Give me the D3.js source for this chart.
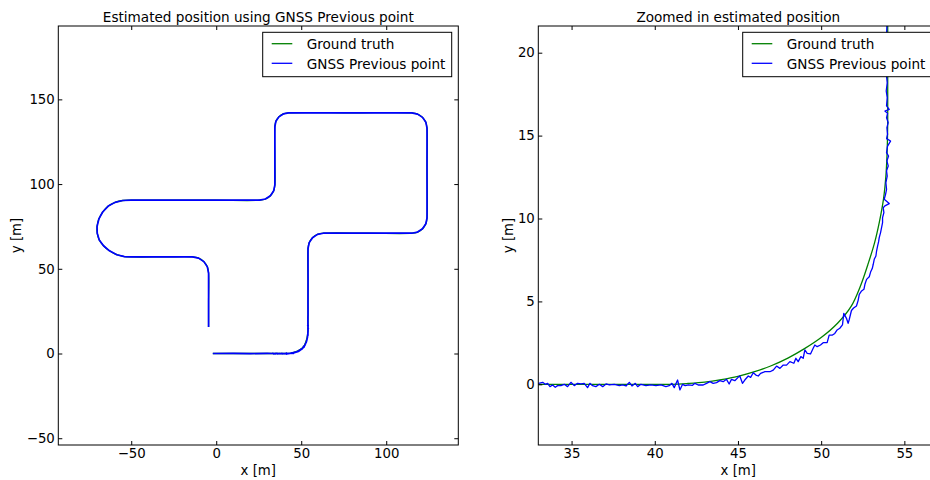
<!DOCTYPE html>
<html>
<head>
<meta charset="utf-8">
<script src="https://cdn.jsdelivr.net/npm/d3@7"></script>
<style>
  html, body { margin: 0; padding: 0; background: #fff; }
  svg { display: block; font-family: "DejaVu Sans", sans-serif; }
</style>
</head>
<body>
<svg id="chart" width="930" height="480"></svg>
<script>
// Ground truth trajectory [x, y] in metres
const groundTruth = [
  [-2, 0], [10, 0], [20, 0], [30, 0], [33, 0], [38, 0], [41, 0], [42, 0.05], [43, 0.13],
  [44, 0.28], [45, 0.48], [46, 0.76], [47, 1.12], [48, 1.58], [49, 2.15], [50, 2.82],
  [51, 3.7], [51.8, 4.7], [52.35, 5.9], [52.8, 7.2], [53.2, 8.5], [53.5, 9.8],
  [53.75, 11.2], [53.9, 12.7], [53.97, 14.2], [54, 16], [54, 22],
  [54, 40], [54, 62], [54.69, 65.44], [56.64, 68.36], [59.56, 70.31], [63, 71],
  [90, 71], [115, 71], [118.44, 71.69], [121.36, 73.64], [123.31, 76.56], [124, 80],
  [124, 110], [124, 133], [123.31, 136.44], [121.36, 139.36], [118.44, 141.31], [115, 142],
  [80, 142], [42.5, 142], [39.44, 141.39], [36.84, 139.66], [35.11, 137.06], [34.5, 134],
  [34.5, 115], [34.5, 99.5], [33.81, 96.06], [31.86, 93.14], [28.94, 91.19], [25.5, 90.5],
  [0, 90.5], [-25, 90.5], [-50, 90.5], [-55, 90.3], [-59.5, 89.2], [-63.5, 87], [-66.8, 83.5],
  [-69, 79.5], [-70.1, 75], [-70, 71], [-68.8, 67], [-66.3, 63.6], [-62.8, 60.6],
  [-58.5, 58.3], [-54, 57.2], [-50, 57],
  [-30, 57], [-14, 57], [-10.36, 56.28], [-7.28, 54.22], [-5.22, 51.14], [-4.5, 47.5],
  [-4.5, 30], [-4.5, 15.7]
];

// GNSS fixes before the first corner
const gnssHead = [
  [-2, 0], [10, 0.03], [20, -0.02], [30, 0.02], [32.8, 0.0]
];

// GNSS fixes through the first corner
const gnssCorner = [
  [33.02, 0.06], [33.26, 0.12], [33.42, 0.0], [33.56, 0.06], [33.70, -0.14], [33.86, -0.04],
  [34.02, -0.18], [34.16, -0.08], [34.36, -0.08], [34.56, 0.0], [34.76, -0.14], [34.96, 0.12],
  [35.16, -0.08], [35.36, 0.06], [35.56, 0.02], [35.76, 0.06], [35.96, -0.2], [36.10, 0.06],
  [36.26, -0.08], [36.46, -0.14], [36.67, 0.0], [36.87, -0.14], [37.07, 0.02], [37.27, -0.04],
  [37.57, 0.0], [37.87, -0.08], [38.07, -0.04], [38.27, -0.1], [38.47, 0.12], [38.63, -0.1],
  [38.83, 0.06], [38.97, -0.14], [39.17, 0.0], [39.47, -0.08], [39.77, -0.04], [40.07, -0.08],
  [40.37, -0.04], [40.67, -0.14], [40.87, -0.08], [41.03, 0.06], [41.17, -0.2], [41.37, 0.26],
  [41.51, -0.34], [41.67, 0.0], [41.83, -0.08], [42.03, -0.04], [42.27, -0.06],
  [42.41, 0.06], [42.61, -0.04], [42.91, -0.04], [43.11, 0.06], [43.31, 0.16], [43.51, 0.06],
  [43.71, 0.10], [43.91, 0.22], [44.11, 0.16], [44.31, 0.30], [44.47, 0.02], [44.61, 0.30],
  [44.81, 0.22], [45.01, 0.42], [45.11, 0.50], [45.27, 0.06], [45.41, 0.26], [45.62, 0.50],
  [45.76, 0.42], [45.92, 0.70], [46.08, 0.56], [46.22, 0.50], [46.36, 0.66], [46.62, 0.76],
  [46.92, 0.76], [47.12, 0.86], [47.32, 1.10], [47.52, 0.96], [47.72, 1.16], [47.92, 1.16],
  [48.12, 1.37], [48.36, 1.27], [48.48, 1.57], [48.62, 1.37], [48.78, 1.67], [48.92, 1.57],
  [49.02, 2.07], [49.16, 1.87], [49.36, 1.83], [49.52, 2.17], [49.62, 2.37], [49.76, 2.27],
  [49.96, 2.37], [50.12, 2.51], [50.36, 2.51], [50.48, 2.97], [50.68, 2.97], [50.82, 3.07],
  [50.96, 3.28], [51.12, 3.38], [51.28, 3.58], [51.36, 4.28], [51.52, 3.98], [51.62, 3.68],
  [51.68, 3.88], [51.82, 4.45], [51.95, 4.6], [52.12, 4.72], [52.22, 5.05], [52.29, 5.43],
  [52.43, 5.63], [52.57, 5.73], [52.63, 6.03], [52.73, 6.33], [52.89, 6.49], [52.97, 6.77],
  [53.07, 6.98], [53.13, 7.24], [53.19, 7.54], [53.29, 7.74], [53.33, 8.04], [53.39, 8.34],
  [53.45, 8.59], [53.49, 8.85], [53.57, 9.15], [53.63, 9.45], [53.69, 9.75], [53.69, 10.05],
  [53.77, 10.35], [53.73, 10.65], [53.83, 10.76], [54.09, 10.90], [53.79, 11.16], [53.87, 11.46],
  [53.93, 11.76], [53.89, 12.16], [53.97, 12.56], [53.93, 12.87], [54.03, 13.17], [53.95, 13.47],
  [54.05, 13.77], [53.93, 13.97], [53.99, 14.37], [54.17, 14.67], [53.93, 14.82], [53.99, 15.08],
  [53.95, 15.48], [54.03, 15.78], [53.93, 16.08], [53.99, 16.34], [53.83, 16.48], [54.09, 16.58],
  [53.93, 16.79], [53.97, 17.29], [53.91, 17.69], [53.97, 18.19], [53.93, 18.59], [53.95, 19.20],
  [53.91, 19.60], [53.97, 20.40], [53.93, 21.01], [53.95, 21.61]
];

// GNSS fixes after the first corner
const gnssTail = [
  [54, 22.6], [53.98, 30], [54.02, 45], [54, 62], [54.69, 65.44], [56.64, 68.36], [59.56, 70.31], [63, 71],
  [90, 71], [115, 71], [118.44, 71.69], [121.36, 73.64], [123.31, 76.56], [124, 80],
  [124, 110], [124, 133], [123.31, 136.44], [121.36, 139.36], [118.44, 141.31], [115, 142],
  [80, 142], [42.5, 142], [39.44, 141.39], [36.84, 139.66], [35.11, 137.06], [34.5, 134],
  [34.5, 115], [34.5, 99.5], [33.81, 96.06], [31.86, 93.14], [28.94, 91.19], [25.5, 90.5],
  [0, 90.5], [-25, 90.5], [-50, 90.5], [-55, 90.3], [-59.5, 89.2], [-63.5, 87], [-66.8, 83.5],
  [-69, 79.5], [-70.1, 75], [-70, 71], [-68.8, 67], [-66.3, 63.6], [-62.8, 60.6],
  [-58.5, 58.3], [-54, 57.2], [-50, 57],
  [-30, 57], [-14, 57], [-10.36, 56.28], [-7.28, 54.22], [-5.22, 51.14], [-4.5, 47.5],
  [-4.5, 30], [-4.5, 15.7]
];

const gnss = [...gnssHead, ...gnssCorner, ...gnssTail];

// Axis limits and tick values of the two panels
const overviewXLim = [-92.9, 142.4];
const overviewYLim = [-54.0, 193.3];
const overviewXTicks = [-50, 0, 50, 100];
const overviewYTicks = [-50, 0, 50, 100, 150];

const zoomXLim = [33.0, 57.04];
const zoomYLim = [-3.66, 21.61];
const zoomXTicks = [35, 40, 45, 50, 55];
const zoomYTicks = [0, 5, 10, 15, 20];

const legendLabels = ["Ground truth", "GNSS Previous point"];
const titles = ["Estimated position using GNSS Previous point", "Zoomed in estimated position"];

const COLOR_TRUTH = "#008000";
const COLOR_GNSS = "#0000ff";

const svg = d3.select("#chart");

const panels = [
  { left: 58.3, top: 26, width: 400, height: 419, xLim: overviewXLim, yLim: overviewYLim,
    xTicks: overviewXTicks, yTicks: overviewYTicks, title: titles[0], yLabelX: 21, gnssWidth: 1.7 },
  { left: 538.3, top: 26, width: 400, height: 419, xLim: zoomXLim, yLim: zoomYLim,
    xTicks: zoomXTicks, yTicks: zoomYTicks, title: titles[1], yLabelX: 513, gnssWidth: 1.3 }
];

function styleAxis(sel) {
  sel.attr("font-size", null).attr("font-family", null);
  sel.select(".domain").remove();
  sel.selectAll(".tick line").attr("stroke", "#000").attr("stroke-width", 1);
  sel.selectAll(".tick text").attr("fill", "#000").style("font-size", "13.3px");
}

panels.forEach((p, i) => {
  const g = svg.append("g");
  const x = d3.scaleLinear().domain(p.xLim).range([p.left, p.left + p.width]);
  const y = d3.scaleLinear().domain(p.yLim).range([p.top + p.height, p.top]);

  const clipId = "clip-" + i;
  svg.append("clipPath").attr("id", clipId)
    .append("rect")
    .attr("x", p.left).attr("y", p.top)
    .attr("width", p.width).attr("height", p.height);

  const plot = g.append("g").attr("clip-path", `url(#${clipId})`);

  const smoothLine = d3.line().x(d => x(d[0])).y(d => y(d[1])).curve(d3.curveCatmullRom.alpha(0.5));
  const straightLine = d3.line().x(d => x(d[0])).y(d => y(d[1]));

  plot.append("path").datum(groundTruth)
    .attr("d", smoothLine)
    .attr("fill", "none").attr("stroke", COLOR_TRUTH).attr("stroke-width", 1.3)
    .attr("stroke-linejoin", "round");

  plot.append("path").datum(gnss)
    .attr("d", straightLine)
    .attr("fill", "none").attr("stroke", COLOR_GNSS).attr("stroke-width", p.gnssWidth)
    .attr("stroke-linejoin", "round");

  const fmt = d3.format("d");
  // ticks point inward on all four sides
  g.append("g").attr("transform", `translate(0,${p.top + p.height})`)
    .call(d3.axisBottom(x).tickValues(p.xTicks).tickFormat(fmt).tickSize(-4).tickSizeOuter(0).tickPadding(4))
    .call(styleAxis);
  g.append("g").attr("transform", `translate(0,${p.top})`)
    .call(d3.axisTop(x).tickValues(p.xTicks).tickFormat("").tickSize(-4).tickSizeOuter(0))
    .call(styleAxis);
  g.append("g").attr("transform", `translate(${p.left},0)`)
    .call(d3.axisLeft(y).tickValues(p.yTicks).tickFormat(fmt).tickSize(-4).tickSizeOuter(0).tickPadding(3.5))
    .call(styleAxis);
  g.append("g").attr("transform", `translate(${p.left + p.width},0)`)
    .call(d3.axisRight(y).tickValues(p.yTicks).tickFormat("").tickSize(-4).tickSizeOuter(0))
    .call(styleAxis);

  // frame
  g.append("rect")
    .attr("x", p.left).attr("y", p.top)
    .attr("width", p.width).attr("height", p.height)
    .attr("fill", "none").attr("stroke", "#000").attr("stroke-width", 1);

  // title
  g.append("text")
    .attr("x", p.left + p.width / 2).attr("y", 21.8)
    .attr("text-anchor", "middle")
    .style("font-size", "13.6px")
    .text(p.title);

  // axis labels
  g.append("text")
    .attr("x", p.left + p.width / 2).attr("y", 474.5)
    .attr("text-anchor", "middle")
    .style("font-size", "13.3px")
    .text("x [m]");
  g.append("text")
    .attr("transform", `translate(${p.yLabelX},${p.top + p.height / 2}) rotate(-90)`)
    .attr("text-anchor", "middle")
    .style("font-size", "13.3px")
    .text("y [m]");

  // legend
  const lw = 189, lh = 44.4;
  const lx = p.left + p.width - 6.6 - lw;
  const ly = p.top + 6.3;
  const leg = g.append("g");
  leg.append("rect")
    .attr("x", lx).attr("y", ly).attr("width", lw).attr("height", lh)
    .attr("fill", "#fff").attr("stroke", "#000").attr("stroke-width", 1);
  const colors = [COLOR_TRUTH, COLOR_GNSS];
  legendLabels.forEach((label, k) => {
    const cy = ly + 11.4 + k * 19.6;
    leg.append("line")
      .attr("x1", lx + 9).attr("x2", lx + 29.6)
      .attr("y1", cy).attr("y2", cy)
      .attr("stroke", colors[k]).attr("stroke-width", 1.3);
    leg.append("text")
      .attr("x", lx + 44).attr("y", cy + 5.2)
      .style("font-size", "13.6px")
      .text(label);
  });
});
</script>
</body>
</html>
